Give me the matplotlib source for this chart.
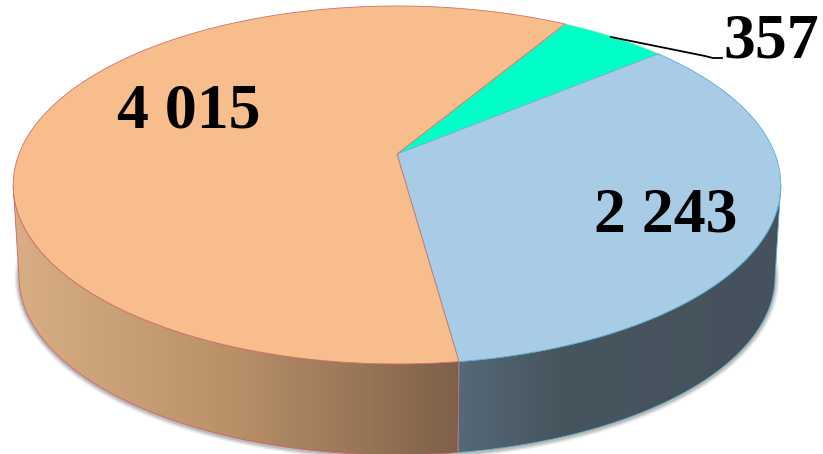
import numpy as np
import matplotlib
matplotlib.use("Agg")
import matplotlib.pyplot as plt
from matplotlib.colors import to_rgb
from matplotlib.patches import Polygon

# Data, clockwise from the top
values = [357, 2243, 4015]
labels = ["357", "2 243", "4 015"]
top_colors = ["#00FFC6", "#A8CCE6", "#F7BD8C"]
edge_colors = ["#7FE0C0", "#5AAFCF", "#D0706A"]

plt.rcParams["font.family"] = ["Liberation Serif", "DejaVu Serif"]
fig = plt.figure(figsize=(8.23, 4.54), dpi=100)
ax = fig.add_axes([0, 0, 1, 1])
ax.set_xlim(0, 823)
ax.set_ylim(454, 0)
ax.axis("off")

# perspective projection of the pie's circle
K, S, R = 0.173, 173.6, 378.0
CX, CY = 397.0, 154.0
DEPTH, SHRINK_X, SHRINK_Y = 92.0, 0.985, 0.995
START = 59.3


def proj(deg, lower=False):
    t = np.radians(np.asarray(deg, dtype=float))
    d = 1 + K * np.sin(t)
    x, y = R * np.cos(t) / d, S * np.sin(t) / d
    if lower:
        return CX + SHRINK_X * x, CY + DEPTH - SHRINK_Y * y
    return CX + x, CY - y


total = sum(values)
sweeps = [v / total * 360 for v in values]
bounds = [START]
for s in sweeps:
    bounds.append(bounds[-1] - s)

LEFT_T, RIGHT_T = -170.0, -10.0   # silhouette tangent angles
split = bounds[2]                 # blue / orange boundary on the front


def wall_poly(a, b):
    ts = np.linspace(a, b, 200)
    x1, y1 = proj(ts)
    x2, y2 = proj(ts[::-1], lower=True)
    return np.column_stack([np.r_[x1, x2], np.r_[y1, y2]])


# soft shadow hugging the base
ts = np.linspace(-195, 15, 300)
xs, ys = proj(ts, lower=True)
for w, a in zip([6.5, 5, 3.5, 2.2], [0.07, 0.09, 0.12, 0.16]):
    ax.plot(xs, ys + 1, color="#505050", lw=w, alpha=a, zorder=1,
            solid_capstyle="round")


def gradient_wall(poly, x0, x1, stops, edge):
    pos = np.linspace(0, 1, 256)
    fr = [p for p, _ in stops]
    rgb = np.stack([np.interp(pos, fr, [to_rgb(c)[i] for _, c in stops]) for i in range(3)], axis=-1)[None, :, :]
    im = ax.imshow(rgb, extent=[x0, x1, 454, 0], aspect="auto", zorder=2, interpolation="bilinear")
    p = Polygon(poly, closed=True, fc="none", ec="none", transform=ax.transData)
    ax.add_patch(p)
    im.set_clip_path(p)
    ax.add_patch(Polygon(poly, closed=True, fc="none", ec=edge, lw=0.6, zorder=3))


gradient_wall(wall_poly(split, RIGHT_T), 458, 785,
              [(0, "#566979"), (0.3, "#47555F"), (1, "#45525D")], "#5AAFCF")
gradient_wall(wall_poly(LEFT_T, split), 12, 460,
              [(0, "#D9AE85"), (0.5, "#B89068"), (1, "#7E6049")], "#D0606A")
ax.set_xlim(0, 823)
ax.set_ylim(454, 0)

# top face slices
for i in range(3):
    ts = np.linspace(bounds[i], bounds[i + 1], 300)
    x, y = proj(ts)
    pts = np.column_stack([np.r_[CX, x], np.r_[CY, y]])
    ax.add_patch(Polygon(pts, closed=True, fc=top_colors[i], ec=edge_colors[i], lw=0.6, zorder=4))

# leader line and labels
ax.plot([611, 705, 713, 722], [37, 56, 58, 58], color="black", lw=1.3, zorder=5)
ax.text(771, 42, labels[0], ha="center", va="center", fontsize=46, fontweight="bold", zorder=6)
ax.text(666, 217, labels[1], ha="center", va="center", fontsize=46, fontweight="bold", zorder=6)
ax.text(189, 112, labels[2], ha="center", va="center", fontsize=46, fontweight="bold", zorder=6)

# descenders of a title cut off by the top edge, as in the reference
for x, ch in zip([162, 233, 413], ["(", "р", ")"]):
    ax.text(x, -9, ch, ha="center", va="baseline", fontsize=30, fontweight="bold",
            color="#0B4A6F", zorder=6)

fig.savefig("out.png", dpi=100)
